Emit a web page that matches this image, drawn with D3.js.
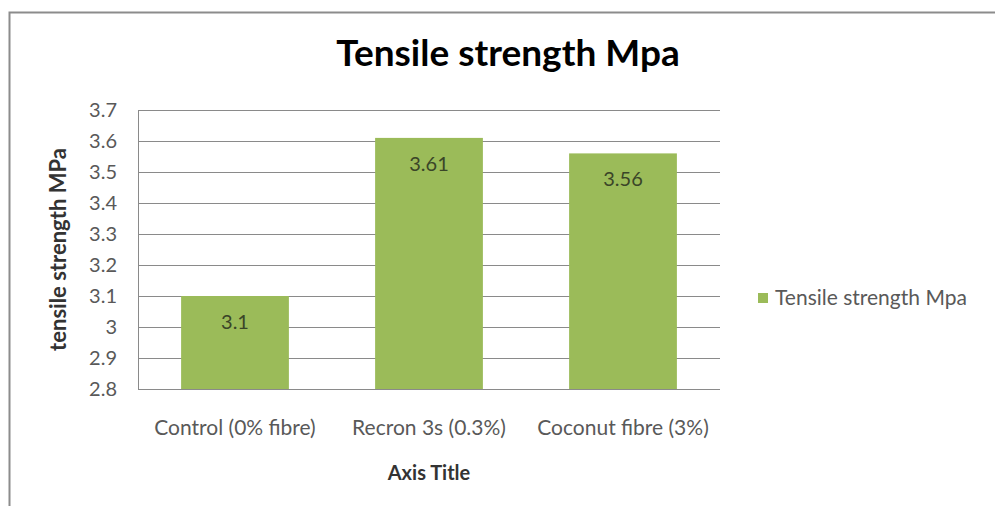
<!DOCTYPE html>
<html>
<head>
<meta charset="utf-8">
<script src="https://cdn.jsdelivr.net/npm/d3@7"></script>
<style>
  body { margin: 0; background: #fff; }
  text { font-family: Lato, "Open Sans", sans-serif; }
</style>
</head>
<body>
<svg width="995" height="506"></svg>
<script>
// chart data
var categories = ["Control (0% fibre)", "Recron 3s (0.3%)", "Coconut fibre (3%)"];
var values = [3.1, 3.61, 3.56];
var yTicks = [2.8, 2.9, 3.0, 3.1, 3.2, 3.3, 3.4, 3.5, 3.6, 3.7];
var seriesName = "Tensile strength Mpa";

var svg = d3.select("svg");
var plotLeft = 138, plotRight = 720, plotTop = 110, plotBottom = 389;

// outer frame (right and bottom fall outside the picture)
svg.append("rect")
	.attr("x", 9.5).attr("y", 12.5)
	.attr("width", 1100).attr("height", 600)
	.attr("fill", "none")
	.attr("stroke", "#8c8c8c")
	.attr("stroke-width", 2);

var y = d3.scaleLinear().domain([2.8, 3.7]).range([plotBottom, plotTop]);
var x = d3.scaleBand().domain(categories).range([plotLeft, plotRight])
	.paddingInner(0.8 / 1.8).paddingOuter(0.4 / 1.8);

// gridlines
svg.append("g")
	.selectAll("line")
	.data(yTicks)
	.enter()
	.append("line")
		.attr("x1", plotLeft).attr("x2", plotRight)
		.attr("y1", function(d) { return Math.round(y(d)) + 0.5; })
		.attr("y2", function(d) { return Math.round(y(d)) + 0.5; })
		.attr("stroke", "#8a8a8a")
		.attr("stroke-width", 1);

// left axis line
svg.append("line")
	.attr("x1", plotLeft + 0.5).attr("x2", plotLeft + 0.5)
	.attr("y1", plotTop).attr("y2", plotBottom)
	.attr("stroke", "#8a8a8a");

// y tick labels
svg.append("g")
	.selectAll("text")
	.data(yTicks)
	.enter()
	.append("text")
		.attr("x", plotLeft - 21)
		.attr("y", function(d) { return y(d); })
		.attr("dy", "0.35em")
		.attr("text-anchor", "end")
		.attr("font-size", 20)
		.attr("fill", "#595959")
		.text(function(d) { return d === 3 ? "3" : d3.format(".1f")(d); });

// bars
svg.append("g")
	.selectAll("rect")
	.data(values)
	.enter()
	.append("rect")
		.attr("x", function(d, i) { return x(categories[i]); })
		.attr("y", function(d) { return y(d); })
		.attr("width", x.bandwidth())
		.attr("height", function(d) { return plotBottom - y(d); })
		.attr("fill", "#9bbb59");

// value labels
svg.append("g")
	.selectAll("text")
	.data(values)
	.enter()
	.append("text")
		.attr("x", function(d, i) { return x(categories[i]) + x.bandwidth() / 2; })
		.attr("y", function(d) { return y(d) + 26; })
		.attr("dy", "0.35em")
		.attr("text-anchor", "middle")
		.attr("font-size", 20)
		.attr("fill", "#3a4528")
		.text(function(d) { return d; });

// category labels
svg.append("g")
	.selectAll("text")
	.data(categories)
	.enter()
	.append("text")
		.attr("x", function(d) { return x(d) + x.bandwidth() / 2; })
		.attr("y", 428)
		.attr("dy", "0.35em")
		.attr("text-anchor", "middle")
		.attr("font-size", 21)
		.attr("fill", "#595959")
		.text(function(d) { return d; });

// titles
svg.append("text")
	.attr("x", 508).attr("y", 66)
	.attr("text-anchor", "middle")
	.attr("font-size", 37)
	.attr("font-weight", "bold")
	.attr("fill", "#000")
	.text(seriesName);

svg.append("text")
	.attr("x", (plotLeft + plotRight) / 2).attr("y", 473)
	.attr("dy", "0.35em")
	.attr("text-anchor", "middle")
	.attr("font-size", 20)
	.attr("font-weight", "bold")
	.attr("fill", "#333")
	.text("Axis Title");

svg.append("text")
	.attr("transform", "translate(58," + (plotTop + plotBottom) / 2 + ") rotate(-90)")
	.attr("dy", "0.35em")
	.attr("text-anchor", "middle")
	.attr("font-size", 22)
	.attr("font-weight", "bold")
	.attr("fill", "#333")
	.text("tensile strength MPa");

// legend
var legend = svg.append("g").attr("transform", "translate(758,298)");
legend.append("rect")
	.attr("x", 0).attr("y", -5)
	.attr("width", 10).attr("height", 10)
	.attr("fill", "#9bbb59");
legend.append("text")
	.attr("x", 17).attr("y", 0)
	.attr("dy", "0.35em")
	.attr("font-size", 21)
	.attr("fill", "#595959")
	.text(seriesName);
</script>
</body>
</html>
